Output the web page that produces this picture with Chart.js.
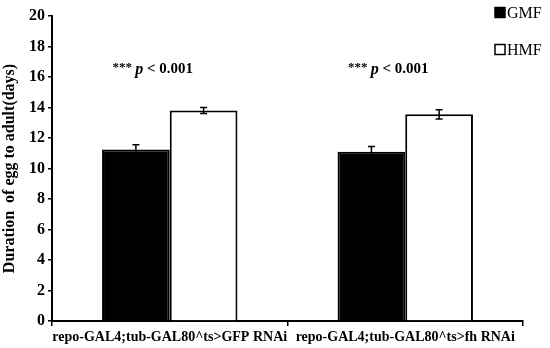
<!DOCTYPE html>
<html>
<head>
<meta charset="utf-8">
<script src="https://cdn.jsdelivr.net/npm/chart.js@4/dist/chart.umd.min.js"></script>
<style>
  html, body { margin: 0; padding: 0; background: #fff; }
</style>
</head>
<body>
<canvas id="chart" width="550" height="348"></canvas>
<script>
const categories = ['repo-GAL4;tub-GAL80^ts>GFP RNAi', 'repo-GAL4;tub-GAL80^ts>fh RNAi'];
const gmfValues = [11.25, 11.1];
const hmfValues = [13.8, 13.55];
const gmfErrors = [0.3, 0.35];
const hmfErrors = [0.2, 0.3];
const sigLabels = ['p < 0.001', 'p < 0.001'];

const serif = '"Liberation Serif", "Times New Roman", serif';

// error bars + p-value notes + legend
const extras = {
    id: 'extras',
    afterDatasetsDraw(chart) {
        const ctx = chart.ctx;
        const y = chart.scales.y;
        const errs = [gmfErrors, hmfErrors];
        ctx.save();
        ctx.strokeStyle = '#000';
        ctx.lineWidth = 1.5;
        chart.data.datasets.forEach((ds, i) => {
            chart.getDatasetMeta(i).data.forEach((bar, j) => {
                const v = ds.data[j], e = errs[i][j];
                const top = y.getPixelForValue(v + e), bot = y.getPixelForValue(v - e);
                ctx.beginPath();
                ctx.moveTo(bar.x, top); ctx.lineTo(bar.x, bot);
                ctx.moveTo(bar.x - 3.5, top); ctx.lineTo(bar.x + 3.5, top);
                ctx.moveTo(bar.x - 3.5, bot); ctx.lineTo(bar.x + 3.5, bot);
                ctx.stroke();
            });
        });
        // significance text
        const x = chart.scales.x;
        ctx.fillStyle = '#000';
        ctx.textBaseline = 'middle';
        sigLabels.forEach((t, j) => {
            const cx = x.getPixelForValue(j) - 17;
            const ty = 69;
            ctx.font = 'bold 13px ' + serif;
            const stars = '*** ';
            const w1 = ctx.measureText(stars).width;
            ctx.font = 'bold italic 16px ' + serif;
            const w2 = ctx.measureText('p').width;
            ctx.font = 'bold 15px ' + serif;
            const rest = t.slice(1);
            const w3 = ctx.measureText(rest).width;
            let sx = cx - (w1 + w2 + w3) / 2;
            ctx.textAlign = 'left';
            ctx.font = 'bold 13px ' + serif;
            ctx.fillText(stars, sx, ty - 1);
            ctx.font = 'bold italic 16px ' + serif;
            ctx.fillText('p', sx + w1, ty + 1);
            ctx.font = 'bold 15px ' + serif;
            ctx.fillText(rest, sx + w1 + w2, ty);
        });
        // legend
        const items = [['GMF', '#000', 12.5], ['HMF', '#fff', 49.5]];
        ctx.font = '16px ' + serif;
        items.forEach(([name, fill, ly]) => {
            ctx.fillStyle = fill;
            ctx.fillRect(495, ly - 5, 10, 10);
            ctx.lineWidth = 1.5;
            ctx.strokeRect(495, ly - 5, 10, 10);
            ctx.fillStyle = '#000';
            ctx.fillText(name, 507, ly + 1);
        });
        ctx.restore();
    }
};

new Chart(document.getElementById('chart'), {
    type: 'bar',
    data: {
        labels: categories,
        datasets: [
            { label: 'GMF', data: gmfValues, backgroundColor: '#000', borderColor: '#000', borderWidth: 2 },
            { label: 'HMF', data: hmfValues, backgroundColor: '#fff', borderColor: '#000', borderWidth: 2 }
        ]
    },
    options: {
        responsive: false,
        animation: false,
        devicePixelRatio: 1,
        layout: { padding: { top: 16, right: 27, left: 0, bottom: 0 } },
        plugins: { legend: { display: false }, tooltip: { enabled: false } },
        datasets: { bar: { barPercentage: 1, categoryPercentage: 0.575 } },
        scales: {
            x: {
                offset: true,
                grid: { offset: true, drawOnChartArea: false, color: '#000', lineWidth: 1.5, tickLength: 5 },
                border: { color: '#000', width: 2 },
                ticks: { color: '#000', maxRotation: 0, autoSkip: false, padding: 3, font: { family: serif, weight: 'bold', size: 14 } },
                afterFit: s => { s.height = 27; }
            },
            y: {
                min: 0, max: 20,
                grid: { drawOnChartArea: false, color: '#000', lineWidth: 1.5, tickLength: 4 },
                border: { color: '#000', width: 2 },
                ticks: { stepSize: 2, color: '#000', padding: 3, font: { family: serif, weight: 'bold', size: 16 } },
                title: { display: true, text: 'Duration  of egg to adult(days)', color: '#000', padding: 0, font: { family: serif, weight: 'bold', size: 16 } },
                afterFit: s => { s.width = 52; }
            }
        }
    },
    plugins: [extras]
});
</script>
</body>
</html>
